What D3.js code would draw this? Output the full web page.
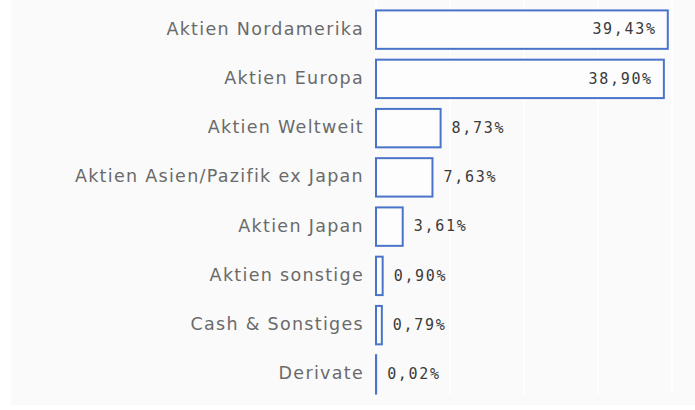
<!DOCTYPE html>
<html><head><meta charset="utf-8">
<script src="https://cdn.jsdelivr.net/npm/d3@7"></script>
<style>html,body{margin:0;padding:0;background:#fff;}</style>
</head><body>
<svg id="chart" width="695" height="410"></svg>
<script>
const categories = ["Aktien Nordamerika","Aktien Europa","Aktien Weltweit","Aktien Asien/Pazifik ex Japan","Aktien Japan","Aktien sonstige","Cash & Sonstiges","Derivate"];
const values = [39.43, 38.90, 8.73, 7.63, 3.61, 0.90, 0.79, 0.02];
const gridTicks = [0, 10, 20, 30, 40];

const W = 695, H = 410;
const svg = d3.select("#chart");
const x0 = 376;
const x = d3.scaleLinear().domain([0, 40]).range([x0, 672]);
const y = d3.scaleBand().domain(categories).range([5, 399]).paddingInner(0.22).paddingOuter(0.11);

svg.append("rect").attr("x", 11).attr("y", 0).attr("width", W - 11).attr("height", 405).attr("fill", "#fafafa");

svg.append("g").selectAll("line").data(gridTicks).join("line")
  .attr("x1", d => x(d)).attr("x2", d => x(d))
  .attr("y1", 0).attr("y2", 395)
  .attr("stroke", "#ffffff").attr("stroke-width", 1.5);

const fmt = v => v.toFixed(2).replace(".", ",") + "%";

svg.append("g").selectAll("rect").data(values).join("rect")
  .attr("x", x(0))
  .attr("y", (d, i) => y(categories[i]))
  .attr("width", d => x(d) - x(0))
  .attr("height", y.bandwidth())
  .attr("fill", "#fdfdfd")
  .attr("stroke", "#4a74c9")
  .attr("stroke-width", 2);

svg.append("g").selectAll("text").data(categories).join("text")
  .attr("x", x0 - 12)
  .attr("y", d => y(d) + y.bandwidth() / 2)
  .attr("dy", "0.28em")
  .attr("text-anchor", "end")
  .attr("font-family", "'DejaVu Sans', sans-serif")
  .attr("font-size", 17.5)
  .attr("letter-spacing", 1.3)
  .attr("fill", "#6a6a6a")
  .text(d => d);

const labelW = 70;
svg.append("g").selectAll("text").data(values).join("text")
  .attr("y", (d, i) => y(categories[i]) + y.bandwidth() / 2)
  .attr("dy", "0.32em")
  .attr("x", d => (x(d) - x(0)) > labelW + 20 ? x(d) - 11 : x(d) + 11)
  .attr("text-anchor", d => (x(d) - x(0)) > labelW + 20 ? "end" : "start")
  .attr("font-family", "'DejaVu Sans Mono', monospace")
  .attr("font-size", 15)
  .attr("letter-spacing", 1.7)
  .attr("fill", "#3a3a3a")
  .text(fmt);
</script>
</body></html>
